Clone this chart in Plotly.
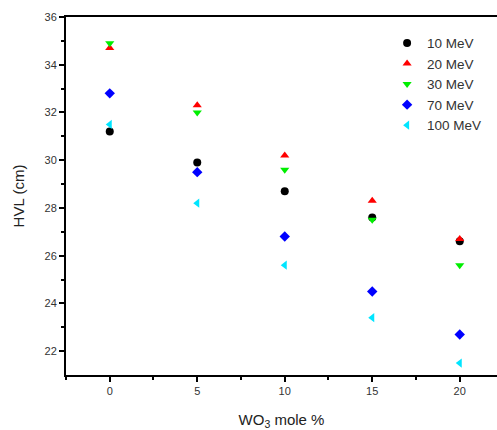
import plotly.graph_objects as go

# WO3 content (mole %) and half-value layer (cm) at each photon energy
wo3_mole = [0, 5, 10, 15, 20]
hvl_10mev = [31.2, 29.9, 28.7, 27.6, 26.6]
hvl_20mev = [34.7, 32.3, 30.2, 28.3, 26.7]
hvl_30mev = [34.9, 32.0, 29.6, 27.5, 25.6]
hvl_70mev = [32.8, 29.5, 26.8, 24.5, 22.7]
hvl_100mev = [31.5, 28.2, 25.6, 23.4, 21.5]

series = [
    ("10 MeV", hvl_10mev, "circle", "#000000"),
    ("20 MeV", hvl_20mev, "triangle-up", "#ff0000"),
    ("30 MeV", hvl_30mev, "triangle-down", "#00ee00"),
    ("70 MeV", hvl_70mev, "diamond", "#0000ff"),
    ("100 MeV", hvl_100mev, "triangle-left", "#00e5ff"),
]

fig = go.Figure()
for name, vals, sym, col in series:
    fig.add_trace(go.Scatter(
        x=wo3_mole, y=vals, mode="markers", name=name,
        marker=dict(symbol=sym, color=col, size=8, line=dict(width=0)),
    ))

font = "Liberation Sans, Arial, sans-serif"
fig.update_layout(
    width=497, height=430,
    margin=dict(l=66, r=0, t=17, b=55),
    paper_bgcolor="white", plot_bgcolor="white",
    font=dict(family=font, color="#333333"),
    showlegend=True,
    legend=dict(
        x=0.745, y=0.97, xanchor="left", yanchor="top",
        bgcolor="rgba(0,0,0,0)", font=dict(size=13.5, color="#333333"),
        tracegroupgap=0,
    ),
    xaxis=dict(
        range=[-2.5, 22.13], tickvals=[0, 5, 10, 15, 20],
        ticks="outside", ticklen=5, tickwidth=2, tickcolor="black",
        minor=dict(tickvals=[-2.5, 2.5, 7.5, 12.5, 17.5], ticks="outside",
                   ticklen=3, tickwidth=2, tickcolor="black"),
        showline=True, linewidth=2, linecolor="black", mirror=True,
        showgrid=False, zeroline=False,
        tickfont=dict(size=11, color="#333333"),
        title=dict(text="WO<sub>3</sub> mole %", font=dict(size=15, color="#222222"),
                   standoff=18),
    ),
    yaxis=dict(
        range=[21, 36], tickvals=list(range(22, 37, 2)),
        ticks="outside", ticklen=5, tickwidth=2, tickcolor="black",
        minor=dict(tickvals=list(range(23, 36, 2)), ticks="outside",
                   ticklen=3, tickwidth=2, tickcolor="black"),
        showline=True, linewidth=2, linecolor="black", mirror=False,
        showgrid=False, zeroline=False,
        tickfont=dict(size=11, color="#333333"),
        title=dict(text="HVL (cm)", font=dict(size=15, color="#222222"),
                   standoff=16),
    ),
)

fig.write_html("out.html")
